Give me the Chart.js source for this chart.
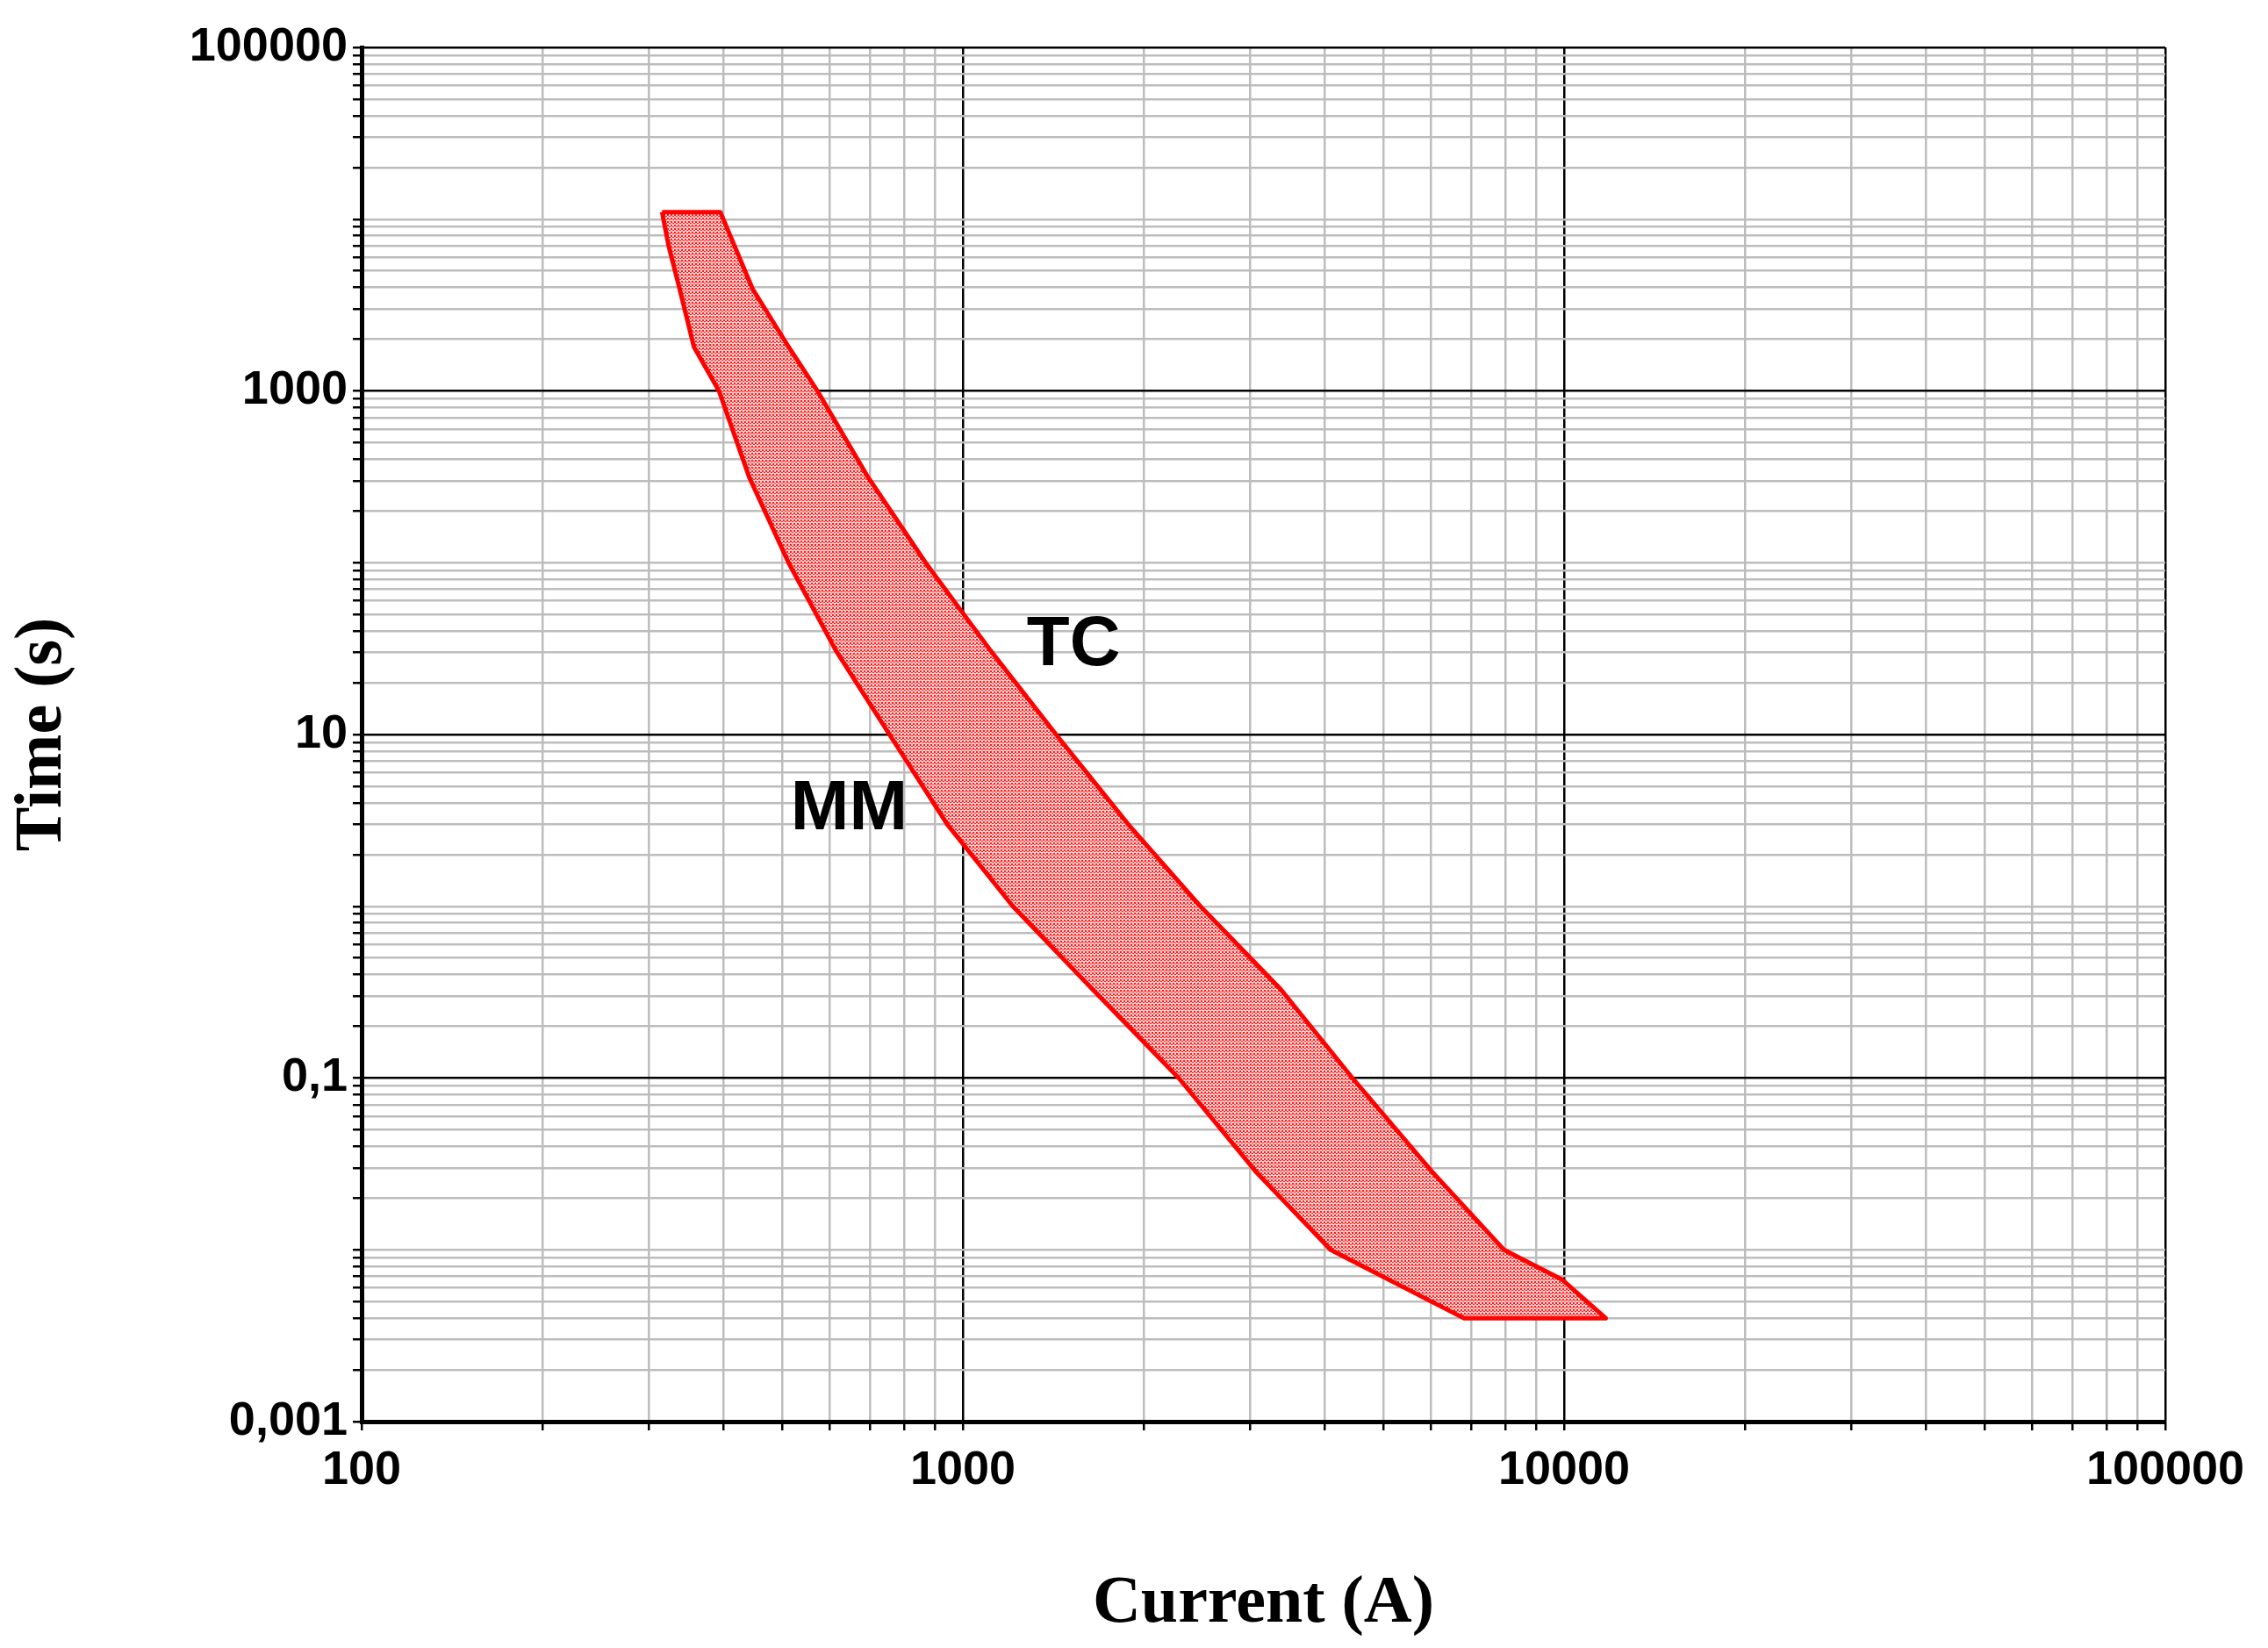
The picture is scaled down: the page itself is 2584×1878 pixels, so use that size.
<!DOCTYPE html>
<html>
<head>
<meta charset="utf-8">
<script src="https://cdn.jsdelivr.net/npm/chart.js@4"></script>
<style>
  html, body { margin: 0; padding: 0; background: #fff; }
  #wrap { width: 2584px; height: 1878px; }
</style>
</head>
<body>
<div id="wrap"><canvas id="tcc-chart"></canvas></div>
<script>
// MM curve (minimum melting), top to bottom, current A vs time s
const mmCurrent = [316, 324, 338, 357, 393, 441, 513, 615, 755, 942, 1211, 1641, 2286, 3069, 4090, 6810];
const mmTime = [11000, 7015, 3926, 1807, 1000, 316, 100, 30.8, 10, 3, 1, 0.33, 0.1, 0.0286, 0.01, 0.004];
// TC curve (total clearing), top to bottom
const tcCurrent = [395, 447, 513, 573, 695, 867, 1112, 1429, 1884, 2483, 3375, 4446, 6026, 7943, 9930, 11730];
const tcTime = [11000, 3926, 1807, 1000, 316, 100, 30.8, 10, 3, 1, 0.33, 0.1, 0.0286, 0.01, 0.0067, 0.004];

const xMajor = [100, 1000, 10000, 100000];
const yMajor = [0.001, 0.1, 10, 1000, 100000];

const labels = [
  { text: "TC", x: 1528, y: 33 },
  { text: "MM", x: 647, y: 3.65 },
];

const toPoints = (xs, ys) => xs.map((x, i) => ({ x: x, y: ys[i] }));

// band outline: down along MM, back up along TC
const band = toPoints(mmCurrent, mmTime)
  .concat(toPoints(tcCurrent, tcTime).reverse())
  .concat([{ x: mmCurrent[0], y: mmTime[0] }]);

// every k*10^n between min and max
const logTicks = (min, max) => {
  const out = [];
  for (let e = Math.round(Math.log10(min)); e < Math.round(Math.log10(max)); e++) {
    for (let k = 1; k < 10; k++) out.push(+(k * Math.pow(10, e)).toPrecision(3));
  }
  out.push(max);
  return out;
};

const isMajor = (list, v) => list.some((m) => Math.abs(m - v) / m < 1e-6);

// dotted red fill
const pat = document.createElement("canvas");
pat.width = 4;
pat.height = 4;
const pc = pat.getContext("2d");
pc.fillStyle = "#ffd0d0";
pc.fillRect(0, 0, 4, 4);
pc.fillStyle = "#ff1a1a";
pc.fillRect(0, 0, 2, 2);
pc.fillRect(2, 2, 2, 1);
const fillPattern = document.getElementById("tcc-chart").getContext("2d").createPattern(pat, "repeat");

const textPlugin = {
  id: "curveLabels",
  afterDatasetsDraw(chart) {
    const ctx = chart.ctx;
    ctx.save();
    ctx.font = "bold 80px 'Liberation Sans', Arial, sans-serif";
    ctx.fillStyle = "#000";
    ctx.textAlign = "center";
    ctx.textBaseline = "middle";
    labels.forEach((l) => {
      ctx.fillText(l.text, chart.scales.x.getPixelForValue(l.x), chart.scales.y.getPixelForValue(l.y));
    });
    ctx.restore();
  },
};

const tickFont = { family: "'Liberation Sans', Arial, sans-serif", size: 54, weight: "bold" };
const titleFont = { family: "'Liberation Serif', 'Times New Roman', serif", size: 76, weight: "bold" };

const config = {
  type: "scatter",
  data: {
    datasets: [
      {
        label: "band",
        data: band,
        showLine: true,
        borderColor: "#ff0000",
        borderWidth: 5,
        borderJoinStyle: "round",
        pointRadius: 0,
        backgroundColor: fillPattern,
        fill: "shape",
      },
    ],
  },
  options: {
    responsive: false,
    animation: false,
    devicePixelRatio: 1,
    layout: { padding: { top: 54, right: 117, left: 0, bottom: 0 } },
    plugins: { legend: { display: false }, tooltip: { enabled: false } },
    scales: {
      x: {
        type: "logarithmic",
        min: 100,
        max: 100000,
        afterBuildTicks: (s) => { s.ticks = logTicks(100, 100000).map((v) => ({ value: v })); },
        afterFit: (s) => { s.height = 258; },
        ticks: {
          autoSkip: false,
          maxRotation: 0,
          padding: 14,
          color: "#000",
          font: tickFont,
          callback: (v) => (isMajor(xMajor, v) ? String(v) : ""),
        },
        grid: {
          color: (c) => (isMajor(xMajor, c.tick.value) ? "#000" : "#bdbdbd"),
          lineWidth: 2.5,
          tickLength: 10,
          tickColor: "#000",
        },
        border: { color: "#000", width: 5 },
        title: { display: true, text: "Current (A)", color: "#000", font: titleFont, padding: { top: 40 } },
      },
      y: {
        type: "logarithmic",
        min: 0.001,
        max: 100000,
        afterBuildTicks: (s) => { s.ticks = logTicks(0.001, 100000).map((v) => ({ value: v })); },
        afterFit: (s) => { s.width = 412; },
        ticks: {
          autoSkip: false,
          padding: 6,
          color: "#000",
          font: tickFont,
          callback: (v) => (isMajor(yMajor, v) ? String(v).replace(".", ",") : ""),
        },
        grid: {
          color: (c) => (isMajor(yMajor, c.tick.value) ? "#000" : "#bdbdbd"),
          lineWidth: 2.5,
          tickLength: 10,
          tickColor: "#000",
        },
        border: { color: "#000", width: 5 },
        title: { display: true, text: "Time (s)", color: "#000", font: titleFont, padding: { bottom: 60 } },
      },
    },
  },
  plugins: [textPlugin],
};

const canvas = document.getElementById("tcc-chart");
canvas.width = 2584;
canvas.height = 1878;
new Chart(canvas, config);
</script>
</body>
</html>
